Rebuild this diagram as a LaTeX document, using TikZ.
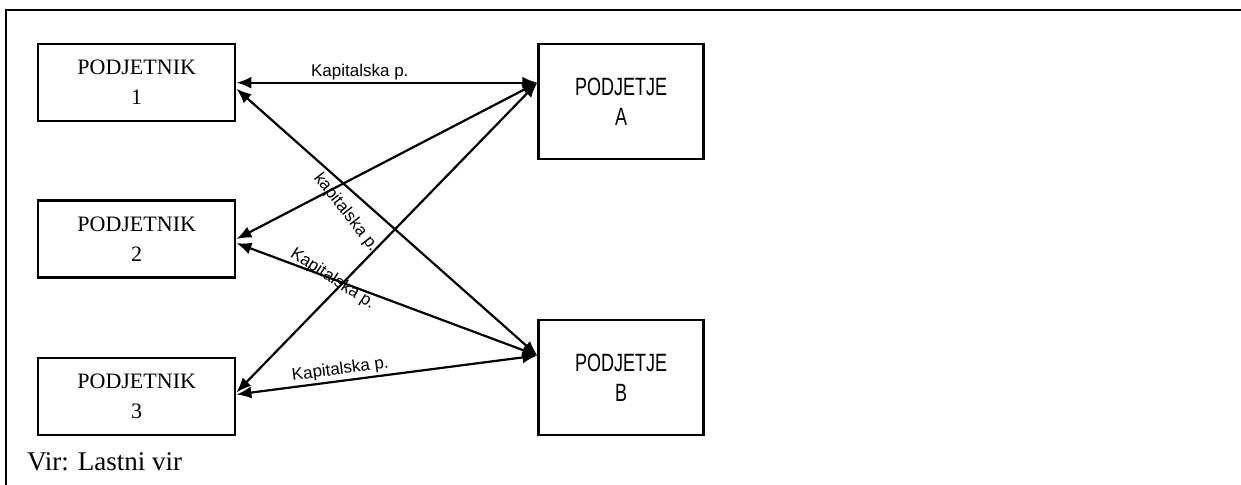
\documentclass[tikz,border=0pt]{standalone}
\usepackage{fontspec}
\setmainfont{Liberation Serif}
\setsansfont{Liberation Sans}
\newfontfamily\narrowsans[FakeStretch=0.72]{Liberation Sans}
\usetikzlibrary{arrows.meta, positioning}

\begin{document}
\begin{tikzpicture}
	[x=0.5pt, y=-0.5pt,
	owner/.style={rectangle, draw=black, line width=1.2pt, minimum width=98.5pt, minimum height=38.5pt, align=center, inner sep=0pt, font=\fontsize{11}{15}\selectfont},
	company/.style={rectangle, draw=black, line width=1.2pt, minimum width=82.5pt, minimum height=57.5pt, align=center, inner sep=0pt, font=\narrowsans\fontsize{12.5}{15}\selectfont},
	share/.style={line width=1.1pt, {Latex[length=7.5pt,width=6pt]}-{Latex[length=7.5pt,width=6pt]}},
	tag/.style={font=\sffamily\fontsize{8.5}{10}\selectfont, inner sep=1pt}]
	\useasboundingbox (0,0) rectangle (1241,485);
	\draw [line width=1.3pt] (5,10) -- (1241,10);
	\draw [line width=1.3pt] (6,10) -- (6,485);
	\node [owner, anchor=north west] (podjetnik 1) at (37,43) {PODJETNIK\\1};
	\node [owner] (podjetnik 2) [below=38.5pt of podjetnik 1] {PODJETNIK\\2};
	\node [owner] (podjetnik 3) [below=39pt of podjetnik 2] {PODJETNIK\\3};
	\node [company] (podjetje A) [right=150.5pt of podjetnik 1.north east, anchor=north west] {PODJETJE\\A};
	\node [company] (podjetje B) [right=150.5pt of podjetnik 3.south east, anchor=south west] {PODJETJE\\B};
	\coordinate (a in) at (podjetnik 1.east -| podjetje A.west);
	\coordinate (b in) at ([yshift=11pt]podjetje B.west);
	\draw [share] (podjetnik 1.east) -- node [tag, above, pos=.41] {Kapitalska p.} (a in);
	\draw [share] (podjetnik 2.east) -- (a in);
	\draw [share] ([yshift=2pt]podjetnik 3.east) -- (a in);
	\draw [share] ([yshift=-3pt]podjetnik 1.east) -- node [tag, pos=.29, rotate=-52, anchor=north west] {kapitalska p.} (b in);
	\draw [share] ([yshift=-2pt]podjetnik 2.east) -- node [tag, pos=.32, rotate=-33] {Kapitalska p.} (b in);
	\draw [share] ([yshift=1pt]podjetnik 3.east) -- node [tag, pos=.35, sloped, above] {Kapitalska p.} (b in);
	\node [anchor=base west, font=\fontsize{13.5}{16}\selectfont] (source) at (20,471) {Vir: Lastni vir};
\end{tikzpicture}
\end{document}
